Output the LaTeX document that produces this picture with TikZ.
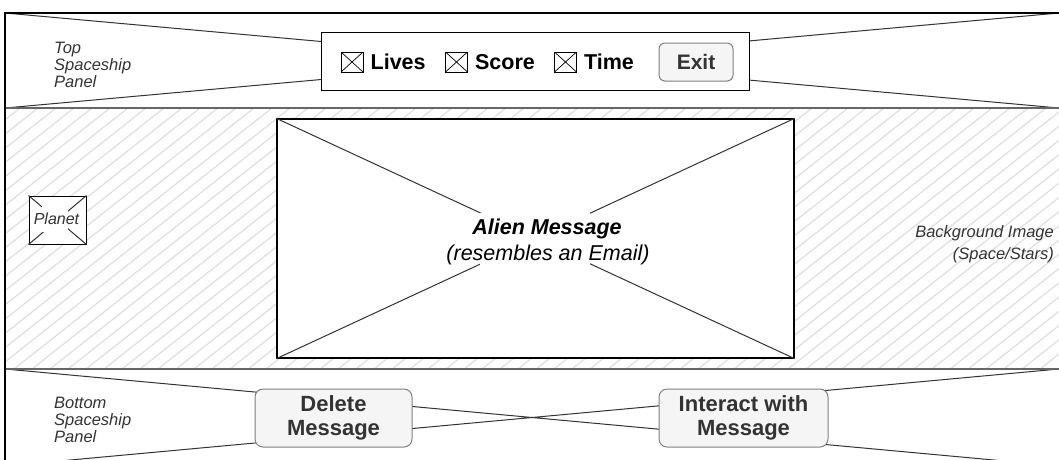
\documentclass[tikz,border=0pt]{standalone}
\usepackage{fontspec}
\setmainfont{Liberation Sans}
\usetikzlibrary{positioning}
\definecolor{framegray}{RGB}{102,102,102}
\definecolor{hatchgray}{RGB}{222,222,222}
\definecolor{btnfill}{RGB}{245,245,245}
\definecolor{btnline}{RGB}{128,128,128}
\definecolor{labelgray}{RGB}{51,51,51}

\tikzset{
  diagline/.style={draw=labelgray, line width=1pt},
  panellabel/.style={font=\itshape\fontsize{16.5}{17}\selectfont, text=labelgray, align=left, anchor=north west, inner sep=0pt},
  chkicon/.style={draw, line width=0.9pt, minimum width=22pt, minimum height=20pt, inner sep=0pt,
    path picture={\draw[line width=0.7pt] (path picture bounding box.north west) -- (path picture bounding box.south east)
      (path picture bounding box.south west) -- (path picture bounding box.north east);}},
  hudtext/.style={font=\bfseries\fontsize{21.5}{24}\selectfont, inner sep=0pt},
  btn/.style={draw=btnline, line width=1pt, fill=btnfill, rounded corners=8pt, text=labelgray, align=center,
    font=\bfseries\fontsize{22}{24}\selectfont, inner sep=0pt},
  whitepatch/.style={fill=white, inner sep=0pt}
}

\begin{document}
\begin{tikzpicture}[x=1pt,y=-1pt]
  \useasboundingbox (0,0) rectangle (1059,459);
  \clip (0,0) rectangle (1059,459);

  % panel corners
  \coordinate (topnw) at (5,13);
  \coordinate (topne) at (1059,13);
  \coordinate (topsw) at (5,108);
  \coordinate (topse) at (1059,108);
  \coordinate (botnw) at (5,369);
  \coordinate (botne) at (1059,369);
  \coordinate (botsw) at (5,466);
  \coordinate (botse) at (1059,466);

  % hatched background
  \begin{scope}
    \clip (topsw) rectangle (botne);
    \foreach \x in {-400,-382,...,1100}
      \draw[hatchgray, line width=1.2pt] (\x,369) -- ++(330,-261);
  \end{scope}

  % frame and panel diagonals
  \draw[diagline] (topnw) -- (topse) (topsw) -- (topne);
  \draw[diagline] (botnw) -- (botse) (botsw) -- (botne);
  \draw[framegray, line width=1.4pt] (topsw) -- (topse) (botnw) -- (botne);
  \draw[line width=1.3pt] (botsw) -- (topnw) -- (topne);

  % top panel
  \node[panellabel] (toplabel) at (54,42) {Top\\Spaceship\\Panel};
  \node[draw, line width=1pt, fill=white, minimum width=428pt, minimum height=58pt, inner sep=0pt] (hudbox) at (535,61) {};
  \node[chkicon] (livesicon) at (352,62) {};
  \node[hudtext, right=7pt of livesicon] (livestext) {Lives};
  \node[chkicon] (scoreicon) at (456.5,62) {};
  \node[hudtext, right=7pt of scoreicon] (scoretext) {Score};
  \node[chkicon] (timeicon) at (565.5,62) {};
  \node[hudtext, right=7pt of timeicon] (timetext) {Time};
  \node[btn, rounded corners=6pt, minimum width=74pt, minimum height=38pt, font=\bfseries\fontsize{21}{24}\selectfont] (exitbtn) at (696,62) {Exit};

  % middle panel
  \node[draw, line width=1pt, fill=white, minimum width=57pt, minimum height=48pt, inner sep=0pt] (planetbox) at (57.5,220) {};
  \draw[diagline] (planetbox.north west) -- (planetbox.south east) (planetbox.south west) -- (planetbox.north east);
  \node[whitepatch, minimum width=26pt, minimum height=26pt] (planetpatch) at (55,219) {};
  \node[font=\itshape\fontsize{16}{17}\selectfont, text=labelgray, inner sep=0pt] (planettext) at (56.5,219) {Planet};

  \node[draw, line width=1.3pt, fill=white, minimum width=517pt, minimum height=239pt, inner sep=0pt] (alienbox) at (535.5,238.5) {};
  \draw[diagline] (alienbox.north west) -- (alienbox.south east) (alienbox.south west) -- (alienbox.north east);
  \node[whitepatch, minimum width=110pt, minimum height=53pt] (alienpatch) at (535,239.5) {};
  \node[font=\bfseries\itshape\fontsize{21.5}{24}\selectfont, inner sep=0pt] (alientitle) at (547,228.5) {Alien Message};
  \node[font=\itshape\fontsize{21.5}{24}\selectfont, inner sep=0pt] (aliensub) at (548,255) {(resembles an Email)};

  \node[panellabel, anchor=north east, align=right, font=\itshape\fontsize{16.5}{22}\selectfont] (bglabel) at (1054,225) {Background Image\\(Space/Stars)};

  % bottom panel
  \node[panellabel] (botlabel) at (54,397) {Bottom\\Spaceship\\Panel};
  \node[btn, minimum width=157pt, minimum height=58pt] (deletebtn) at (333.5,418) {Delete\\Message};
  \node[btn, minimum width=169pt, minimum height=58pt] (interactbtn) at (743.5,418) {Interact with\\Message};
\end{tikzpicture}
\end{document}
